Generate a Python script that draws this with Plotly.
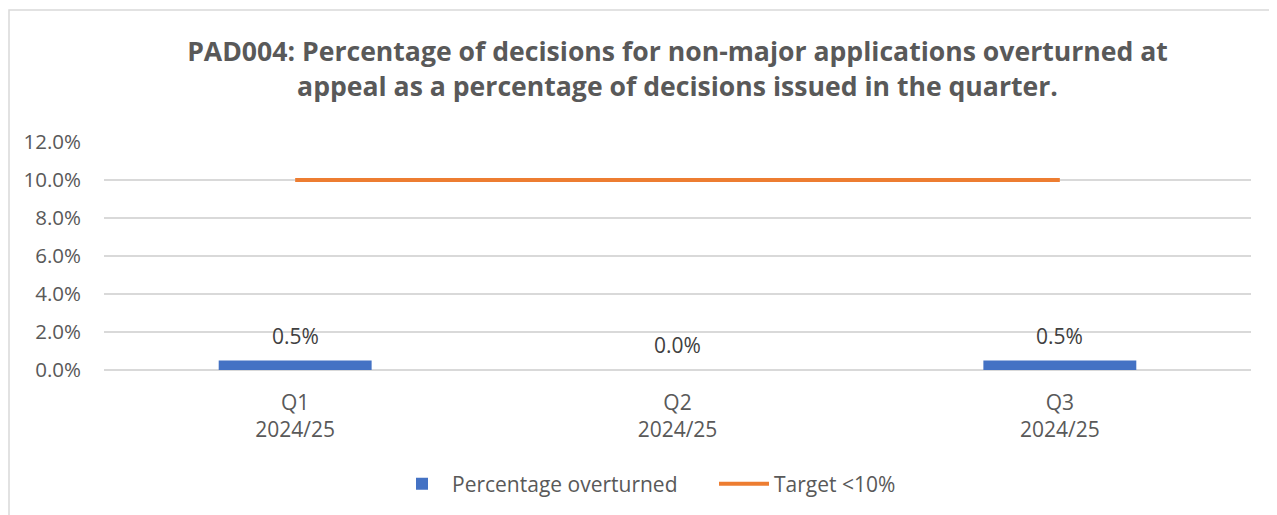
import plotly.graph_objects as go

categories = ["Q1<br>2024/25", "Q2<br>2024/25", "Q3<br>2024/25"]
pct_overturned = [0.005, 0.0, 0.005]
target = [0.10, 0.10, 0.10]
label_text = ["0.5%", "0.0%", "0.5%"]

FONT = "Open Sans"
GREY = "#595959"
OFF = 8  # page body margin

L, T = 104 - OFF, 142 - OFF
PW, PH = 1147, 228

fig = go.Figure()
fig.add_trace(go.Bar(
    x=categories, y=pct_overturned, name="Percentage overturned",
    marker=dict(color="#4472C4", line=dict(width=0)), width=0.4,
    hoverinfo="skip",
))
fig.add_trace(go.Scatter(
    x=categories, y=target, name="Target <10%", mode="lines",
    line=dict(color="#ED7D31", width=4), hoverinfo="skip",
))

for c, v, t in zip(categories, pct_overturned, label_text):
    fig.add_annotation(x=c, y=v, text=t, showarrow=False, yanchor="middle",
                       yshift=25, font=dict(family=FONT, size=21, color="#404040"))

# chart border (left edge as close to page edge as the figure allows)
fig.add_shape(type="rect", xref="paper", yref="paper",
              x0=(1 - L) / PW, x1=1.2, y0=-1.0, y1=(370 - 10) / PH,
              line=dict(color="#D9D9D9", width=1.5), fillcolor="rgba(0,0,0,0)", layer="below")

fig.update_layout(
    width=1277, height=515,
    margin=dict(l=L, r=1277 - L - PW, t=T, b=515 - T - PH),
    paper_bgcolor="white", plot_bgcolor="white",
    title=dict(
        text="<b>PAD004: Percentage of decisions for non-major applications overturned at<br>appeal as a percentage of decisions issued in the quarter.</b>",
        x=0.5, xanchor="center", xref="paper", y=1 - (61 - OFF) / 515, yanchor="middle",
        font=dict(family=FONT, size=26.6, color=GREY),
    ),
    font=dict(family=FONT, size=21, color=GREY),
    showlegend=True,
    legend=dict(orientation="h", x=(392 - 104) / PW, xanchor="left", y=-(484 - 370) / PH,
                yanchor="middle", font=dict(family=FONT, size=21, color=GREY),
                entrywidth=257, itemwidth=50, bgcolor="rgba(0,0,0,0)"),
    bargap=0.6,
)
fig.update_xaxes(showgrid=False, showline=False, ticks="", ticklabelstandoff=18,
                 tickfont=dict(family=FONT, size=21, color=GREY))
fig.update_yaxes(range=[0, 0.12], dtick=0.02, tickformat=".1%", showgrid=True,
                 gridcolor="#D9D9D9", gridwidth=1.5, zeroline=True, zerolinecolor="#D9D9D9",
                 zerolinewidth=1.5, showline=False, ticks="", ticklabelstandoff=22,
                 tickfont=dict(family=FONT, size=20.5, color=GREY))

fig.write_html("out.html")
